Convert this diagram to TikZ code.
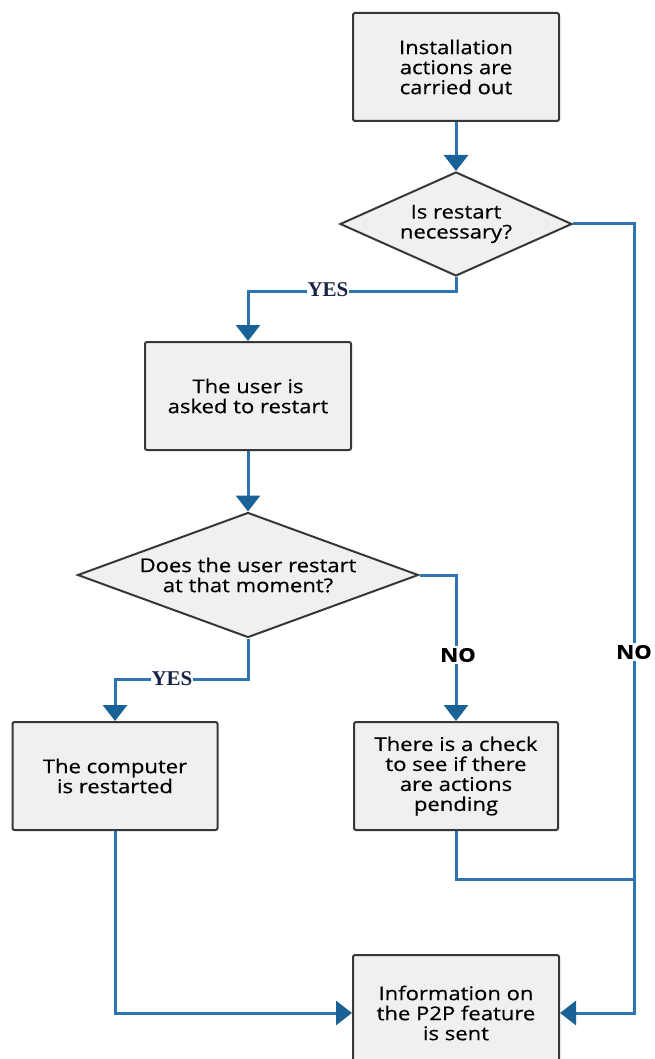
\documentclass[tikz,border=0pt]{standalone}
\usepackage{fontspec}
\setmainfont{Open Sans}[FakeStretch=1.16, FakeBold=0.5]
\newfontfamily\yesfont{Liberation Serif}
\usepackage{xcolor}
\usepackage{tikz}
\usetikzlibrary{shapes,arrows.meta,positioning,calc}

\definecolor{flowblue}{RGB}{46,116,178}
\definecolor{tipblue}{RGB}{25,98,150}
\definecolor{boxgray}{RGB}{240,240,240}
\definecolor{edgegray}{RGB}{55,55,55}
\definecolor{yesnavy}{RGB}{25,35,70}

\begin{document}
\begin{tikzpicture}[x=1pt, y=-1pt,
    every node/.style={font=\fontsize{19}{20}\selectfont, align=center},
    stepbox/.style={rectangle, draw=edgegray, line width=2pt, fill=boxgray,
        rounded corners=2pt, minimum width=206pt, minimum height=108pt, inner sep=0pt},
    question/.style={diamond, draw=edgegray, line width=2pt, fill=boxgray, inner sep=0pt},
    flow/.style={draw=flowblue, line width=3pt},
    toflow/.style={flow, -{Triangle[width=24pt,length=16pt,color=tipblue]}},
    yeslabel/.style={fill=white, inner sep=1pt, text=yesnavy,
        font=\yesfont\bfseries\fontsize{21}{21}\selectfont},
    nolabel/.style={fill=white, inner sep=2pt, font=\bfseries\fontsize{19}{20}\selectfont}]
\useasboundingbox (0,0) rectangle (654,1059);
\clip (0,0) rectangle (654,1059);

% Steps
\node[stepbox] (install) at (456,67) {Installation\\actions are\\carried out};
\node[question, aspect=2.23, minimum width=232pt, minimum height=104pt]
    (needrestart) at (456,224) {Is restart\\necessary?};
\node[stepbox] (askuser) at (248,396) {The user is\\asked to restart};
\node[question, aspect=2.73, minimum width=341pt, minimum height=125pt]
    (userrestart) at (248,575) {Does the user restart\\at that moment?};
\node[stepbox, minimum width=205pt] (rebooted) at (115,776) {The computer\\is restarted};
\node[stepbox, minimum width=204pt] (pending) at (456,776) {There is a check\\to see if there\\are actions\\pending};
\node[stepbox, minimum height=116pt] (sendinfo) at (456,1013) {Information on\\the P2P feature\\is sent};

% Right rail
\coordinate (rightrail) at (634,879);

% Connectors
\draw[toflow] (install) -- (needrestart);
\draw[toflow] (needrestart.south) -- ++(0,14) -| (askuser.north);
\draw[toflow] (needrestart.east) -| (rightrail) |- (sendinfo.east);
\draw[toflow] (askuser) -- (userrestart);
\draw[toflow] (userrestart.south) -- ++(0,41) -| (rebooted.north);
\draw[toflow] (userrestart.east) -| (pending.north);
\draw[flow] (pending.south) |- (rightrail);
\draw[toflow] (rebooted.south) |- (sendinfo.west);

% Labels
\node[yeslabel] (yesone) at (328,290) {YES};
\node[yeslabel] (yestwo) at (172,679) {YES};
\node[nolabel] (noone) at (634,652) {NO};
\node[nolabel] (notwo) at (458,655) {NO};
\end{tikzpicture}
\end{document}
